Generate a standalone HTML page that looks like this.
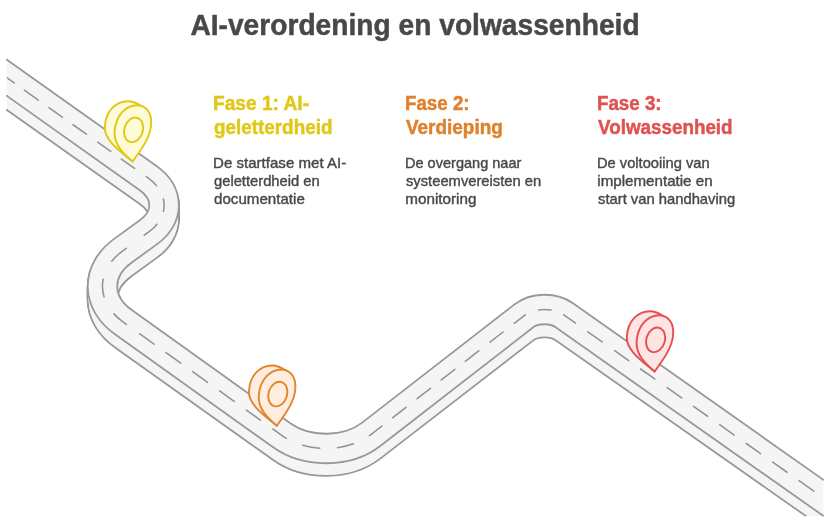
<!DOCTYPE html>
<html lang="nl"><head><meta charset="utf-8"><title>AI-verordening en volwassenheid</title>
<style>html,body{margin:0;padding:0;background:#fff}body{width:829px;height:531px;overflow:hidden}svg{display:block;will-change:transform}text{font-family:"Liberation Sans",sans-serif}</style></head>
<body>
<svg width="829" height="531" viewBox="0 0 829 531">
<defs><path id="rd" d="M-20.00 58.69 L148.33 178.20 A53.83 38.22 0 0 1 148.78 231.93 L122.80 250.82 A71.50 50.77 0 0 0 123.23 322.07 L282.12 435.60 A61.57 43.72 0 0 0 371.22 434.29 L523.61 316.04 A28.35 20.13 0 0 1 564.50 315.35 L850.00 516.62"/></defs>
<rect width="829" height="531" fill="#fff"/>
<g fill="none" stroke-linejoin="round">
<g stroke="#999999" stroke-width="31.30">
<use href="#rd" transform="matrix(1 0 0 0.99600 0 14.500)"/>
<use href="#rd" transform="matrix(1 0 0 0.99629 0 13.464)"/>
<use href="#rd" transform="matrix(1 0 0 0.99657 0 12.429)"/>
<use href="#rd" transform="matrix(1 0 0 0.99686 0 11.393)"/>
<use href="#rd" transform="matrix(1 0 0 0.99714 0 10.357)"/>
<use href="#rd" transform="matrix(1 0 0 0.99743 0 9.321)"/>
<use href="#rd" transform="matrix(1 0 0 0.99771 0 8.286)"/>
<use href="#rd" transform="matrix(1 0 0 0.99800 0 7.250)"/>
<use href="#rd" transform="matrix(1 0 0 0.99829 0 6.214)"/>
<use href="#rd" transform="matrix(1 0 0 0.99857 0 5.179)"/>
<use href="#rd" transform="matrix(1 0 0 0.99886 0 4.143)"/>
<use href="#rd" transform="matrix(1 0 0 0.99914 0 3.107)"/>
<use href="#rd" transform="matrix(1 0 0 0.99943 0 2.071)"/>
<use href="#rd" transform="matrix(1 0 0 0.99971 0 1.036)"/>
</g>
<g stroke="#f5f5f5" stroke-width="27.70">
<use href="#rd" transform="matrix(1 0 0 0.99600 0 14.500)"/>
<use href="#rd" transform="matrix(1 0 0 0.99629 0 13.464)"/>
<use href="#rd" transform="matrix(1 0 0 0.99657 0 12.429)"/>
<use href="#rd" transform="matrix(1 0 0 0.99686 0 11.393)"/>
<use href="#rd" transform="matrix(1 0 0 0.99714 0 10.357)"/>
<use href="#rd" transform="matrix(1 0 0 0.99743 0 9.321)"/>
<use href="#rd" transform="matrix(1 0 0 0.99771 0 8.286)"/>
<use href="#rd" transform="matrix(1 0 0 0.99800 0 7.250)"/>
<use href="#rd" transform="matrix(1 0 0 0.99829 0 6.214)"/>
<use href="#rd" transform="matrix(1 0 0 0.99857 0 5.179)"/>
<use href="#rd" transform="matrix(1 0 0 0.99886 0 4.143)"/>
<use href="#rd" transform="matrix(1 0 0 0.99914 0 3.107)"/>
<use href="#rd" transform="matrix(1 0 0 0.99943 0 2.071)"/>
<use href="#rd" transform="matrix(1 0 0 0.99971 0 1.036)"/>
</g>
<use href="#rd" stroke="#999999" stroke-width="31.30"/>
<use href="#rd" stroke="#f5f5f5" stroke-width="27.70"/>
<use href="#rd" stroke="#939393" stroke-width="1.55" stroke-dasharray="0.0 25.9 16.0 12.5 17.1 13.1 16.6 12.9 16.4 13.8 16.0 13.1 16.2 14.3 13.7 15.0 12.4 14.5 16.9 22.2 19.5 20.0 17.9 19.8 16.3 16.1 17.8 14.8 18.0 14.7 18.3 14.8 17.9 15.0 17.3 15.3 16.6 17.7 17.3 17.6 16.5 17.9 15.8 13.5 17.1 14.0 17.0 13.6 17.2 13.2 17.3 14.0 16.5 14.2 14.1 14.1 12.2 13.5 14.7 15.0 17.6 15.3 17.1 14.6 17.3 15.1 17.9 14.4 17.3 14.7 17.9 14.7 17.5 14.8 17.6 14.6 18.1 3000.0" stroke-linecap="round"/>
</g>
<rect x="0" y="0" width="6.8" height="531" fill="#fff"/><rect x="823.2" y="300" width="5.8" height="231" fill="#fff"/><rect x="700" y="516" width="129" height="15" fill="#fff"/>
<g fill="#999999"><circle cx="6.90" cy="59.69" r="0.90"/><circle cx="6.90" cy="95.87" r="0.90"/><circle cx="6.90" cy="109.99" r="0.90"/><circle cx="823.10" cy="479.61" r="0.90"/><circle cx="823.10" cy="515.70" r="0.90"/><circle cx="805.24" cy="515.60" r="0.90"/></g>
<g transform="translate(0.00 0.00)" fill="#fffbd9" stroke="#dfc90e" stroke-width="1.9" stroke-linejoin="round"><path d="M132.6 161.5 C120 151 104 140 104.8 127 C105.5 110 117 101 128 101.2 C133 101.3 137.5 103.5 141 106 L132.6 161.5Z"/><path d="M132.6 161.5 C124 154 113.5 145 114.6 131 C116 114 127 105 137.5 105.2 C147 105.5 152.1 114 151.1 125 C150.1 138 141 150 132.6 161.5Z"/><ellipse cx="133.6" cy="129.9" rx="9.3" ry="12.5" transform="rotate(17 133.8 129.9)"/></g><g transform="translate(144.20 264.25)" fill="#ffeee0" stroke="#e0852d" stroke-width="1.9" stroke-linejoin="round"><path d="M132.6 161.5 C120 151 104 140 104.8 127 C105.5 110 117 101 128 101.2 C133 101.3 137.5 103.5 141 106 L132.6 161.5Z"/><path d="M132.6 161.5 C124 154 113.5 145 114.6 131 C116 114 127 105 137.5 105.2 C147 105.5 152.1 114 151.1 125 C150.1 138 141 150 132.6 161.5Z"/><ellipse cx="133.6" cy="129.9" rx="9.3" ry="12.5" transform="rotate(17 133.8 129.9)"/></g><g transform="translate(522.00 210.00)" fill="#ffe4e4" stroke="#e25050" stroke-width="1.9" stroke-linejoin="round"><path d="M132.6 161.5 C120 151 104 140 104.8 127 C105.5 110 117 101 128 101.2 C133 101.3 137.5 103.5 141 106 L132.6 161.5Z"/><path d="M132.6 161.5 C124 154 113.5 145 114.6 131 C116 114 127 105 137.5 105.2 C147 105.5 152.1 114 151.1 125 C150.1 138 141 150 132.6 161.5Z"/><ellipse cx="133.6" cy="129.9" rx="9.3" ry="12.5" transform="rotate(17 133.8 129.9)"/></g>
<text x="190.4" y="34.6" font-size="30" font-weight="bold" fill="#484848" stroke="#484848" stroke-width="0.5" stroke-linejoin="round" textLength="449.2" lengthAdjust="spacingAndGlyphs">AI-verordening en volwassenheid</text>
<text x="213.0" y="109.7" font-size="20" font-weight="bold" fill="#e0c818" stroke="#e0c818" stroke-width="0.5" stroke-linejoin="round" textLength="96.0" lengthAdjust="spacingAndGlyphs">Fase 1: AI-</text>
<text x="214.0" y="133.6" font-size="20" font-weight="bold" fill="#e0c818" stroke="#e0c818" stroke-width="0.5" stroke-linejoin="round" textLength="118.4" lengthAdjust="spacingAndGlyphs">geletterdheid</text>
<text x="405.0" y="109.7" font-size="20" font-weight="bold" fill="#e0812f" stroke="#e0812f" stroke-width="0.5" stroke-linejoin="round" textLength="64.6" lengthAdjust="spacingAndGlyphs">Fase 2:</text>
<text x="406.0" y="133.6" font-size="20" font-weight="bold" fill="#e0812f" stroke="#e0812f" stroke-width="0.5" stroke-linejoin="round" textLength="96.8" lengthAdjust="spacingAndGlyphs">Verdieping</text>
<text x="597.0" y="109.7" font-size="20" font-weight="bold" fill="#e05252" stroke="#e05252" stroke-width="0.5" stroke-linejoin="round" textLength="64.6" lengthAdjust="spacingAndGlyphs">Fase 3:</text>
<text x="598.0" y="133.6" font-size="20" font-weight="bold" fill="#e05252" stroke="#e05252" stroke-width="0.5" stroke-linejoin="round" textLength="134.6" lengthAdjust="spacingAndGlyphs">Volwassenheid</text>
<text x="213.0" y="167.9" font-size="15" font-weight="normal" fill="#484848" stroke="#484848" stroke-width="0.4" stroke-linejoin="round" textLength="133.2" lengthAdjust="spacingAndGlyphs">De startfase met AI-</text>
<text x="214.0" y="185.8" font-size="15" font-weight="normal" fill="#484848" stroke="#484848" stroke-width="0.4" stroke-linejoin="round" textLength="105.7" lengthAdjust="spacingAndGlyphs">geletterdheid en</text>
<text x="214.0" y="203.6" font-size="15" font-weight="normal" fill="#484848" stroke="#484848" stroke-width="0.4" stroke-linejoin="round" textLength="90.8" lengthAdjust="spacingAndGlyphs">documentatie</text>
<text x="405.0" y="167.9" font-size="15" font-weight="normal" fill="#484848" stroke="#484848" stroke-width="0.4" stroke-linejoin="round" textLength="116.4" lengthAdjust="spacingAndGlyphs">De overgang naar</text>
<text x="406.0" y="185.8" font-size="15" font-weight="normal" fill="#484848" stroke="#484848" stroke-width="0.4" stroke-linejoin="round" textLength="135.2" lengthAdjust="spacingAndGlyphs">systeemvereisten en</text>
<text x="405.3" y="203.6" font-size="15" font-weight="normal" fill="#484848" stroke="#484848" stroke-width="0.4" stroke-linejoin="round" textLength="71.1" lengthAdjust="spacingAndGlyphs">monitoring</text>
<text x="597.0" y="167.9" font-size="15" font-weight="normal" fill="#484848" stroke="#484848" stroke-width="0.4" stroke-linejoin="round" textLength="112.6" lengthAdjust="spacingAndGlyphs">De voltooiing van</text>
<text x="597.3" y="185.8" font-size="15" font-weight="normal" fill="#484848" stroke="#484848" stroke-width="0.4" stroke-linejoin="round" textLength="115.3" lengthAdjust="spacingAndGlyphs">implementatie en</text>
<text x="598.0" y="203.6" font-size="15" font-weight="normal" fill="#484848" stroke="#484848" stroke-width="0.4" stroke-linejoin="round" textLength="137.2" lengthAdjust="spacingAndGlyphs">start van handhaving</text>
</svg>
</body></html>
